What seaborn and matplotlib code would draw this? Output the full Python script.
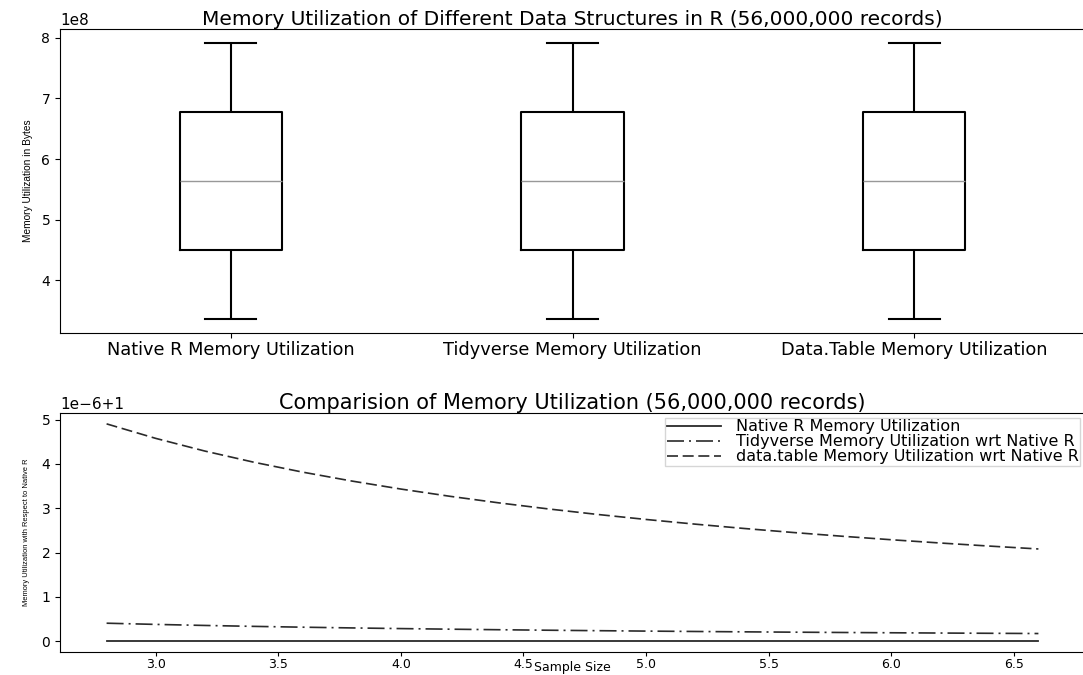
import numpy as np
import pandas as pd
import matplotlib
matplotlib.use("Agg")
import matplotlib.pyplot as plt
import seaborn as sns

# ---- data ----
sample_sizes = [2800000, 3000000, 3200000, 3400000, 3600000, 3800000, 4000000,
                4200000, 4400000, 4600000, 4800000, 5000000, 5200000, 5400000,
                5600000, 5800000, 6000000, 6200000, 6400000, 6600000]
native_bytes = [336000848, 360000848, 384000848, 408000848, 432000848, 456000848,
                480000848, 504000848, 528000848, 552000848, 576000848, 600000848,
                624000848, 648000848, 672000848, 696000848, 720000848, 744000848,
                768000848, 792000848]
tidyverse_bytes = [336000984, 360000984, 384000984, 408000984, 432000984, 456000984,
                   480000984, 504000984, 528000984, 552000984, 576000984, 600000984,
                   624000984, 648000984, 672000984, 696000984, 720000984, 744000984,
                   768000984, 792000984]
datatable_bytes = [336002496, 360002496, 384002496, 408002496, 432002496, 456002496,
                   480002496, 504002496, 528002496, 552002496, 576002496, 600002496,
                   624002496, 648002496, 672002496, 696002496, 720002496, 744002496,
                   768002496, 792002496]
box_categories = ["Native R Memory Utilization", "Tidyverse Memory Utilization",
                  "Data.Table Memory Utilization"]
line_labels = ["Native R Memory Utilization",
               "Tidyverse Memory Utilization wrt Native R",
               "data.table Memory Utilization wrt Native R"]

NARROW = ["Liberation Sans", "DejaVu Sans"]
LINE_COLOR = "#2a2a2a"

fig = plt.figure(figsize=(10.83, 6.75), dpi=100)
W, H = 1083, 675
ax1 = fig.add_axes([60 / W, 1 - 333 / H, 1025 / W, (333 - 28.7) / H])
ax2 = fig.add_axes([60 / W, 1 - 652 / H, 1025 / W, (652 - 413) / H])

# ---- top: boxplots ----
box_df = pd.DataFrame({
    "Structure": np.repeat(box_categories, len(native_bytes)),
    "Bytes": np.concatenate([native_bytes, tidyverse_bytes, datatable_bytes]).astype(float),
})
sns.boxplot(data=box_df, x="Structure", y="Bytes", order=box_categories, ax=ax1,
            width=0.3, fill=False, color="black", linewidth=1.5,
            medianprops={"color": "#989898", "linewidth": 1.0})
ax1.set_xlabel("")
ax1.set_ylabel("Memory Utilization in Bytes", family=NARROW, fontsize=7.3, labelpad=6)
ax1.set_title("Memory Utilization of Different Data Structures in R (56,000,000 records)",
              fontsize=14.5, pad=3)
ax1.tick_params(axis="x", labelsize=12.8, pad=2)
ax1.tick_params(axis="y", labelsize=10)
ax1.yaxis.get_offset_text().set_fontsize(11)

# ---- bottom: ratios ----
native = np.array(native_bytes, dtype=float)
ratio_native = native / native
ratio_tidy = np.array(tidyverse_bytes, dtype=float) / native
ratio_dt = np.array(datatable_bytes, dtype=float) / native

sns.lineplot(x=sample_sizes, y=ratio_native, ax=ax2, color=LINE_COLOR, linewidth=1.3,
             linestyle="-", label=line_labels[0])
sns.lineplot(x=sample_sizes, y=ratio_tidy, ax=ax2, color=LINE_COLOR, linewidth=1.2,
             linestyle=(0, (10.2, 3.0, 1.2, 3.0)), label=line_labels[1])
sns.lineplot(x=sample_sizes, y=ratio_dt, ax=ax2, color=LINE_COLOR, linewidth=1.2,
             linestyle=(0, (6.6, 2.8)), label=line_labels[2])
ax2.set_title("Comparision of Memory Utilization (56,000,000 records)",
              fontsize=15, pad=1)
ax2.set_xlabel("Sample Size", fontsize=9, va="bottom")
ax2.xaxis.set_label_coords(0.5, -22.0 / 239)
ax2.set_ylabel("Memory Utilization with Respect to Native R", family=NARROW,
               fontsize=5.4, labelpad=8)
ax2.tick_params(axis="x", labelsize=9, pad=1, length=3)
ax2.tick_params(axis="y", labelsize=10)
ax2.xaxis.get_offset_text().set_fontsize(11)
ax2.yaxis.get_offset_text().set_fontsize(11)
ax2.legend(loc="upper right", fontsize=11.5, borderpad=0.1, labelspacing=0.0,
           handlelength=3.4, handletextpad=0.9, frameon=True, fancybox=False,
           borderaxespad=0.3)

fig.savefig("out.png", dpi=100)
